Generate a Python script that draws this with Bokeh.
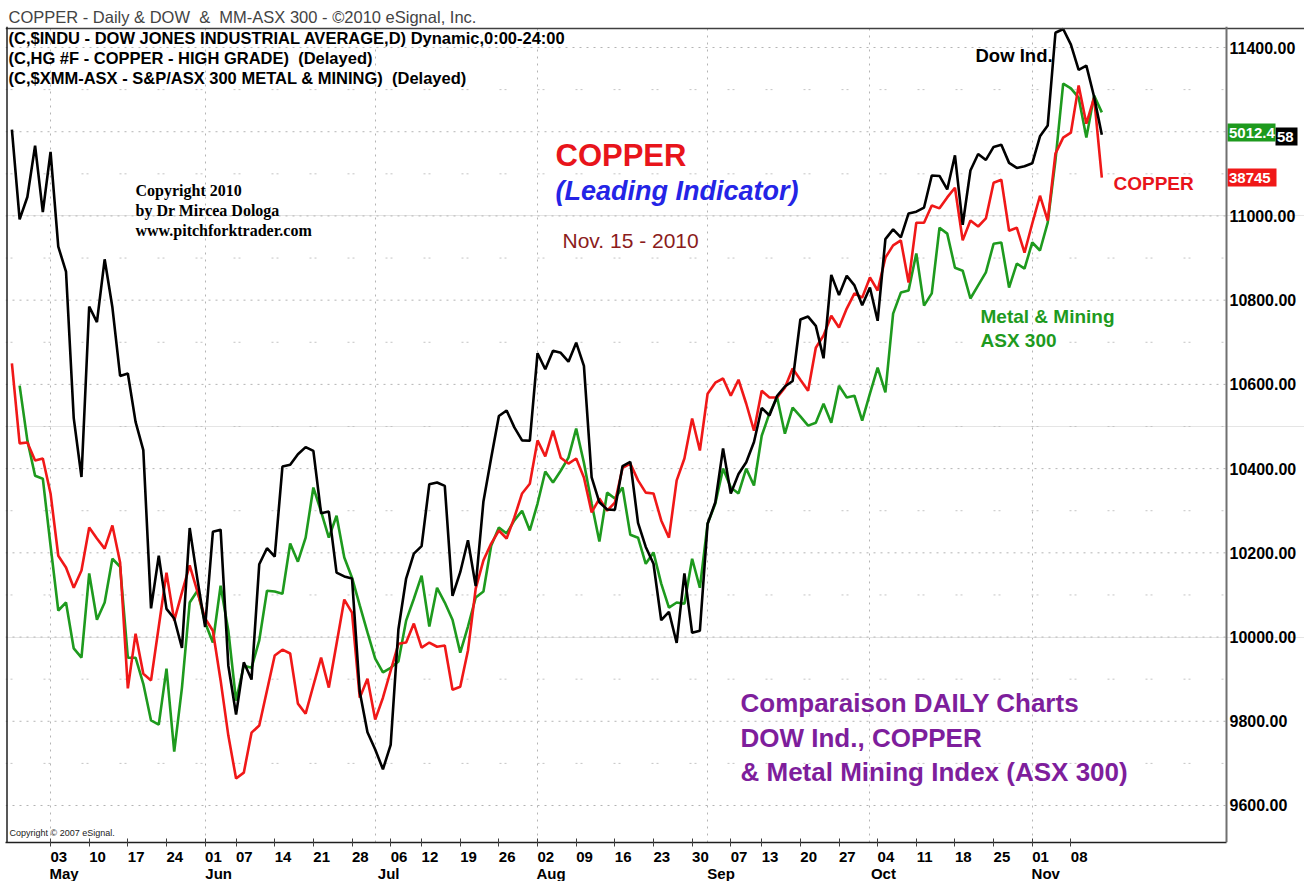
import pandas as pd
from bokeh.plotting import figure
from bokeh.models import (Range1d, FixedTicker, Label, ColumnDataSource, Span,
                          LinearAxis, CustomJSTickFormatter)
from bokeh.core.properties import value
from bokeh.embed import file_html
from bokeh.resources import INLINE

# ---------------- data ----------------
dates = pd.bdate_range("2010-04-26", "2010-11-12")
holidays = ["2010-05-31", "2010-07-05", "2010-09-06"]
dates = [d for d in dates if d.strftime("%Y-%m-%d") not in holidays]

dow = [11205, 10992, 11045, 11167, 11009, 11152, 10927, 10868, 10520, 10380,
       10785, 10748, 10897, 10783, 10620, 10626, 10511, 10444, 10068, 10193,
       10067, 10044, 9974, 10259, 10137, 10024, 10250, 10255, 9932, 9816,
       9940, 9899, 10173, 10211, 10191, 10405, 10409, 10434, 10451, 10442,
       10294, 10298, 10153, 10144, 10139, 9870, 9774, 9733, 9686, 9744,
       10018, 10139, 10198, 10216, 10363, 10367, 10359, 10098, 10154, 10230,
       10121, 10322, 10425, 10525, 10538, 10498, 10467, 10466, 10674, 10636,
       10680, 10675, 10654, 10699, 10644, 10379, 10320, 10303, 10302, 10406,
       10416, 10271, 10214, 10174, 10040, 10060, 9986, 10151, 10010, 10015,
       10269, 10320, 10448, 10341, 10387, 10415, 10463, 10544, 10526, 10573,
       10595, 10608, 10754, 10761, 10739, 10662, 10860, 10812, 10858, 10835,
       10788, 10830, 10751, 10945, 10968, 10949, 11006, 11010, 11020, 11096,
       11095, 11063, 11144, 10979, 11108, 11147, 11133, 11164, 11169, 11126,
       11114, 11118, 11125, 11189, 11215, 11435, 11444, 11407, 11347, 11357,
       11283, 11193]

copper = [10650, 10460, 10462, 10419, 10424, 10341, 10193, 10165, 10117, 10158,
          10260, 10234, 10210, 10265, 10177, 9878, 10008, 9913, 9897, 10025,
          10153, 10039, 10106, 10170, 10108, 10044, 10015, 9897, 9766, 9664,
          9678, 9773, 9790, 9873, 9956, 9970, 9961, 9842, 9818, 9885,
          9951, 9880, 9984, 10089, 10058, 9856, 9901, 9804, 9856, 9920,
          9984, 9987, 10032, 9975, 9987, 9977, 9980, 9875, 9882, 9968,
          10115, 10182, 10222, 10253, 10234, 10284, 10341, 10364, 10467, 10429,
          10490, 10426, 10412, 10424, 10379, 10296, 10329, 10300, 10319, 10402,
          10412, 10372, 10343, 10341, 10277, 10236, 10372, 10424, 10519, 10443,
          10578, 10604, 10614, 10573, 10611, 10554, 10490, 10585, 10569, 10569,
          10592, 10638, 10611, 10585, 10687, 10716, 10763, 10735, 10780, 10816,
          10806, 10854, 10823, 10901, 10930, 10942, 10842, 10984, 10984, 11025,
          11018, 11044, 11067, 10942, 10989, 10975, 10994, 11079, 11086, 10965,
          10972, 10913, 10982, 11048, 10989, 11148, 11186, 11198, 11310, 11219,
          11281, 11091]

asx = [float("nan"), 10597, 10467, 10383, 10376, 10217, 10063, 10082, 9973, 9951,
       10151, 10041, 10082, 10186, 10167, 9951, 9951, 9889, 9802, 9792,
       9925, 9728, 9880, 10082, 10110, 10034, 9987, 10122, 10015, 9849,
       9932, 9927, 9992, 10110, 10108, 10103, 10222, 10179, 10236, 10355,
       10298, 10236, 10288, 10189, 10141, 10075, 10011, 9949, 9916, 9927,
       9942, 10039, 10091, 10146, 10025, 10117, 10082, 10041, 9963, 10025,
       10094, 10108, 10217, 10260, 10246, 10277, 10300, 10253, 10317, 10393,
       10367, 10395, 10426, 10495, 10414, 10317, 10227, 10343, 10329, 10355,
       10243, 10236, 10174, 10201, 10127, 10070, 10082, 10079, 10186, 10117,
       10269, 10317, 10400, 10355, 10341, 10400, 10360, 10478, 10531, 10569,
       10483, 10545, 10524, 10502, 10509, 10554, 10509, 10597, 10569, 10573,
       10514, 10578, 10640, 10581, 10768, 10818, 10823, 10911, 10787, 10816,
       10972, 10958, 10877, 10870, 10804, 10835, 10866, 10934, 10937, 10830,
       10887, 10875, 10937, 10918, 10984, 11132, 11314, 11303, 11281, 11186,
       11286, 11246]

price_ticks = [9600, 9800, 10000, 10200, 10400, 10600, 10800, 11000, 11400]
grid_levels = [9600, 9800, 10000, 10200, 10400, 10600, 10800, 11000, 11200, 11400]
minor_levels = [9700, 9900, 10100, 10300, 10500, 10700, 10900, 11100, 11300]

# last values shown in the price-scale boxes
box_texts = ["58", "5012.4", "38745"]
box_colors = ["black", "#1e9a1e", "#f01818"]

idx = list(range(len(dates)))

# week starts and month starts derived from the trading dates
week_idx, week_lbl, month_idx, month_lbl = [], [], [], []
for i, d in enumerate(dates):
    if i > 0 and d.isocalendar()[1] != dates[i - 1].isocalendar()[1] and d >= pd.Timestamp("2010-05-03"):
        week_idx.append(i)
        week_lbl.append(d.strftime("%d"))
    if i > 0 and d.month != dates[i - 1].month:
        month_idx.append(i)
        month_lbl.append(d.strftime("%b"))

# ---------------- geometry (page px -> data) ----------------
PX_PER_DAY = 7.73
PX_PER_PT = 0.42111


def px2x(px):
    return (px - 11.4) / PX_PER_DAY


def py2y(py):
    return 11400 - (py - 47) / PX_PER_PT


FL, FR, FT, FB = 5, 1304, 26, 842
FONT = "Liberation Sans"
NB = "\u00a0"

p = figure(frame_width=FR - FL, frame_height=FB - FT,
           x_range=Range1d(px2x(FL), px2x(FR)), y_range=Range1d(py2y(FB), py2y(FT)),
           output_backend="svg", toolbar_location=None, y_axis_location=None,
           min_border_left=FL, min_border_right=0, min_border_top=FT, min_border_bottom=0)
p.background_fill_color = "white"
p.border_fill_color = "white"
p.outline_line_color = None

# title line
p.title.text = "COPPER - Daily & DOW " + NB + "& " + NB + "MM-ASX 300 - \u00a92010 eSignal, Inc."
p.title.text_font = FONT
p.title.text_font_size = "16.5px"
p.title.text_font_style = "normal"
p.title.align = "left"
p.title.standoff = 2
p.title.offset = 3

# x axis: day labels (major, shifted right) + week tick marks (minor)
day_pos = [w + 8.3 / PX_PER_DAY for w in week_idx]
xa = p.xaxis[0]
xa.ticker = FixedTicker(ticks=day_pos, minor_ticks=week_idx)
xa.formatter = CustomJSTickFormatter(args=dict(pos=day_pos, lab=week_lbl), code="""
    const k = pos.findIndex(t => Math.abs(t - tick) < 1e-6);
    return k >= 0 ? lab[k] : "";
""")
xa.bounds = (px2x(FL), px2x(1226))
xa.axis_line_color = "#202020"
xa.axis_line_width = 1.5
xa.major_tick_in = 0
xa.major_tick_out = 0
xa.minor_tick_in = 4
xa.minor_tick_out = 4
xa.minor_tick_line_color = "#404040"
xa.major_label_standoff = 5
xa.major_label_text_font = FONT
xa.major_label_text_font_size = "15px"
xa.major_label_text_font_style = "bold"
xa.major_label_text_color = "black"

# month labels axis
mon_pos = [m + 13.5 / PX_PER_DAY for m in month_idx]
ma = LinearAxis(ticker=FixedTicker(ticks=mon_pos, minor_ticks=[]),
                formatter=CustomJSTickFormatter(args=dict(pos=mon_pos, lab=month_lbl), code="""
    const k = pos.findIndex(t => Math.abs(t - tick) < 1e-6);
    return k >= 0 ? lab[k] : "";
"""))
ma.axis_line_color = None
ma.major_tick_in = 0
ma.major_tick_out = 0
ma.minor_tick_in = 0
ma.minor_tick_out = 0
ma.major_label_standoff = 0
ma.major_label_text_font = FONT
ma.major_label_text_font_size = "15px"
ma.major_label_text_font_style = "bold"
ma.major_label_text_color = "black"
p.add_layout(ma, "below")

# grids
p.xgrid.ticker = FixedTicker(ticks=month_idx)
p.xgrid.grid_line_color = "#b4b4b4"
p.xgrid.grid_line_dash = "2 5"
x_left, x_right = px2x(FL), px2x(1226)
p.segment(x0=x_left, x1=x_right, y0=grid_levels, y1=grid_levels,
          line_color="#b4b4b4", line_dash="2 5", line_width=1)
p.segment(x0=x_left, x1=x_right, y0=minor_levels, y1=minor_levels,
          line_color="#c4c4c4", line_dash="2 3 2 31", line_width=1)

# frame lines
p.add_layout(Span(location=py2y(28), dimension="width", line_color="#404040", line_width=1.5))
p.add_layout(Span(location=px2x(6.5), dimension="height", line_color="#202020", line_width=1.5))
p.add_layout(Span(location=px2x(1226), dimension="height", line_color="#707070", line_width=2))

# series
src = ColumnDataSource(dict(i=idx, dow=dow, copper=copper, asx=asx))
p.line("i", "asx", source=src, line_color="#1e9a1e", line_width=2.6)
p.line("i", "copper", source=src, line_color="#f01818", line_width=2.6)
p.line("i", "dow", source=src, line_color="#000000", line_width=2.6)

# price scale labels (right band)
p.text(x=[px2x(1229)] * len(price_ticks), y=price_ticks,
       text=["%.2f" % v for v in price_ticks],
       text_font=value(FONT), text_font_size=value("16px"), text_font_style=value("bold"),
       text_baseline=value("middle"), text_align=value("left"), text_color="black")

# last-value boxes (page-pixel placement converted to data space)
box_l = [1275, 1227, 1227]
box_r = [1297, 1275, 1276]
box_t = [127, 123, 168]
box_b = [145, 141, 186]
p.quad(left=[px2x(v) for v in box_l], right=[px2x(v) for v in box_r],
       top=[py2y(v) for v in box_t], bottom=[py2y(v) for v in box_b],
       fill_color=box_colors, line_color=None)
p.text(x=[px2x(v + 1.5) for v in box_l], y=[py2y((t + b) / 2 + 0.5) for t, b in zip(box_t, box_b)],
       text=box_texts, text_font=value(FONT), text_font_size=value("15px"),
       text_font_style=value("bold"), text_baseline=value("middle"), text_align=value("left"),
       text_color="white")


def lab(px, py, text, size, color="black", style="bold", font=FONT, **kw):
    p.add_layout(Label(x=px2x(px), y=py2y(py), text=text, text_font=font,
                       text_font_size=size, text_font_style=style, text_color=color,
                       text_baseline="middle", text_align="left", **kw))


# header lines
lab(8, 37, "(C,$INDU - DOW JONES INDUSTRIAL AVERAGE,D) Dynamic,0:00-24:00", "16.5px")
lab(8, 57, "(C,HG #F - COPPER - HIGH GRADE) " + NB + "(Delayed)", "16.5px")
lab(8, 77, "(C,$XMM-ASX - S&P/ASX 300 METAL & MINING) " + NB + "(Delayed)", "16.5px")

# annotations
lab(135, 190, "Copyright 2010", "16px", font="Liberation Serif")
lab(135, 210, "by Dr Mircea Dologa", "16px", font="Liberation Serif")
lab(135, 230, "www.pitchforktrader.com", "16px", font="Liberation Serif")

lab(555, 155, "COPPER", "31px", color="#e8141b")
lab(555, 190, "(Leading Indicator)", "27px", color="#2424e6", style="bold italic")
lab(562, 240, "Nov. 15 - 2010", "21px", color="#8b1c1c", style="normal")

lab(975, 55, "Dow Ind.", "18.5px")
lab(1113, 183, "COPPER", "19px", color="#e8141b")
lab(980, 316, "Metal & Mining", "19px", color="#1e9a1e")
lab(980, 340, "ASX 300", "19px", color="#1e9a1e")

purple = "#7e1e9c"
lab(740, 702, "Comparaison DAILY Charts", "26px", color=purple)
lab(740, 737, "DOW Ind., COPPER", "26px", color=purple)
lab(740, 771, "& Metal Mining Index (ASX 300)", "26px", color=purple)

lab(9, 832, "Copyright \u00a9 2007 eSignal.", "9px", color="#222222", style="normal")

open("out.html", "w").write(file_html(p, INLINE))
